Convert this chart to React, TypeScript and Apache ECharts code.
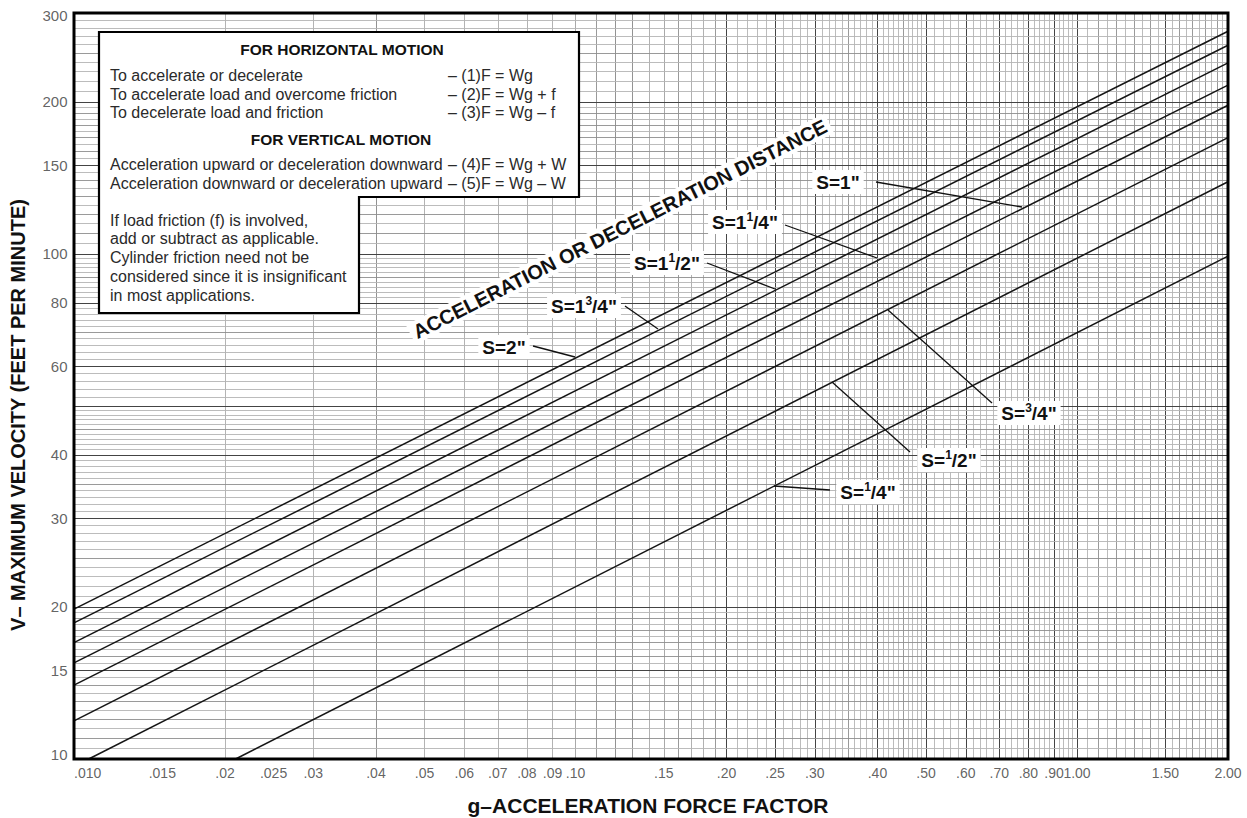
import React, { useEffect, useRef } from "react";
import * as echarts from "echarts";

const FONT = "'Liberation Sans', Arial, Helvetica, sans-serif";

// Acceleration / deceleration distance curves: [g, V(ft/min)] endpoints
const seriesNames = ['S=2"', 'S=1 3/4"', 'S=1 1/2"', 'S=1 1/4"', 'S=1"', 'S=3/4"', 'S=1/2"', 'S=1/4"'];
const s200 = [[0.01, 19.8], [2.0, 276]];
const s175 = [[0.01, 18.6], [2.0, 259]];
const s150 = [[0.01, 17.0], [2.0, 239]];
const s125 = [[0.01, 15.5], [2.0, 216]];
const s100 = [[0.01, 14.0], [2.0, 197]];
const s075 = [[0.01, 11.9], [2.0, 170]];
const s050 = [[0.0107, 10], [2.0, 139]];
const s025 = [[0.021, 10], [2.0, 99]];
const seriesData = [s200, s175, s150, s125, s100, s075, s050, s025];

// Axis ticks
const xTickValues = [0.01, 0.015, 0.02, 0.025, 0.03, 0.04, 0.05, 0.06, 0.07, 0.08, 0.09, 0.1, 0.15, 0.2, 0.25, 0.3, 0.4, 0.5, 0.6, 0.7, 0.8, 0.9, 1, 1.5, 2];
const xTickLabels = [".010", ".015", ".02", ".025", ".03", ".04", ".05", ".06", ".07", ".08", ".09", ".10", ".15", ".20", ".25", ".30", ".40", ".50", ".60", ".70", ".80", ".90", "1.00", "1.50", "2.00"];
const yTickValues = [10, 15, 20, 30, 40, 60, 80, 100, 150, 200, 300];
const yTickLabels = ["10", "15", "20", "30", "40", "60", "80", "100", "150", "200", "300"];

// Graph-paper rulings: [from, to, step]
const xFineSteps = [[0.01, 0.02, 0.0005], [0.02, 0.05, 0.001], [0.05, 0.1, 0.002], [0.1, 0.2, 0.005], [0.2, 0.5, 0.01], [0.5, 1, 0.02], [1, 2, 0.05]];
const xMidSteps = [[0.01, 0.02, 0.001], [0.02, 0.05, 0.005], [0.05, 0.1, 0.01], [0.1, 0.2, 0.01], [0.2, 0.5, 0.05], [0.5, 1, 0.1], [1, 2, 0.1]];
const xMajorLines = [0.015, 0.02, 0.025, 0.03, 0.04, 0.05, 0.06, 0.07, 0.08, 0.09, 0.1, 0.15, 0.2, 0.25, 0.3, 0.4, 0.5, 0.6, 0.7, 0.8, 0.9, 1, 1.5];
const yFineSteps = [[10, 20, 0.5], [20, 50, 1], [50, 100, 2], [100, 200, 5], [200, 300, 10]];
const yMidSteps = [[10, 20, 1], [20, 50, 5], [50, 100, 10], [100, 200, 10], [200, 300, 50]];
const yMajorLines = [15, 20, 30, 40, 50, 60, 80, 100, 150, 200];

function rulings(fine: number[][], mid: number[][], major: number[], lo: number, hi: number) {
  const m = new Map<string, { v: number; lvl: number }>();
  const put = (v: number, lvl: number) => {
    const r = Math.round(v * 1e6) / 1e6;
    if (r <= lo * 1.0001 || r >= hi * 0.9999) return;
    const k = r.toFixed(6);
    const e = m.get(k);
    if (!e || e.lvl < lvl) m.set(k, { v: r, lvl });
  };
  fine.forEach(([a, b, s]) => { for (let i = 0; a + i * s <= b + 1e-9; i++) put(a + i * s, 0); });
  mid.forEach(([a, b, s]) => { for (let i = 0; a + i * s <= b + 1e-9; i++) put(a + i * s, 1); });
  major.forEach((v) => put(v, 2));
  return Array.from(m.values());
}

const LVL = [
  { color: "#b4b4b4", width: 0.9 },
  { color: "#8e8e8e", width: 0.9 },
  { color: "#444444", width: 1 },
];

function sLabel(x: number, y: number, whole: string, sup: string, den: string) {
  const text = sup ? `{b|S=${whole}}{s|${sup}}{b|/${den}"}` : `{b|S=${whole}"}`;
  return {
    type: "text",
    z: 120,
    x,
    y,
    style: {
      text,
      align: "center",
      verticalAlign: "middle",
      textAlign: "center",
      textVerticalAlign: "middle",
      backgroundColor: "#fff",
      padding: [1, 4],
      rich: {
        b: { fontSize: 19, fontWeight: "bold", fontFamily: FONT, fill: "#111", lineHeight: 22 },
        s: { fontSize: 12, fontWeight: "bold", fontFamily: FONT, fill: "#111", lineHeight: 16, verticalAlign: "top" },
      },
    },
  };
}

function leader(x1: number, y1: number, x2: number, y2: number) {
  return { type: "line", z: 110, shape: { x1, y1, x2, y2 }, style: { stroke: "#111", lineWidth: 1.3 } };
}

function boxText(x: number, y: number, text: string, bold = false, align = "left") {
  return {
    type: "text",
    z: 130,
    x,
    y,
    style: {
      text,
      fontSize: bold ? 15.5 : 16,
      fontWeight: bold ? "bold" : "normal",
      fontFamily: FONT,
      fill: bold ? "#111" : "#2a2a2a",
      align,
      textAlign: align,
      verticalAlign: "middle",
      textVerticalAlign: "middle",
    },
  };
}

export default function App() {
  const ref = useRef<HTMLDivElement>(null);
  useEffect(() => {
    document.body.style.margin = "0";
    if (!ref.current) return;
    const chart = echarts.init(ref.current, undefined, { renderer: "svg" });

    const xr = rulings(xFineSteps, xMidSteps, xMajorLines, 0.01, 2);
    const yr = rulings(yFineSteps, yMidSteps, yMajorLines, 10, 300);
    const markData: any[] = [];
    xr.forEach((r) => markData.push({ xAxis: r.v, lineStyle: { color: LVL[r.lvl].color, width: LVL[r.lvl].width, type: "solid" } }));
    yr.forEach((r) => markData.push({ yAxis: r.v, lineStyle: { color: LVL[r.lvl].color, width: LVL[r.lvl].width, type: "solid" } }));

    const lineSeries = seriesData.map((d, i) => ({
      type: "line",
      name: seriesNames[i],
      data: d,
      symbol: "none",
      silent: true,
      z: 5,
      lineStyle: { color: "#151515", width: 1.5 },
    }));

    const graphic: any[] = [
      // plot frame
      { type: "rect", z: 90, shape: { x: 74, y: 13, width: 1154, height: 746 }, style: { fill: "none", stroke: "#000", lineWidth: 3 } },
      // inset box
      {
        type: "polygon",
        z: 125,
        shape: { points: [[99, 32], [579, 32], [579, 197], [359, 197], [359, 313], [99, 313]] },
        style: { fill: "#fff", stroke: "#000", lineWidth: 2.2 },
      },
      boxText(342, 49, "FOR HORIZONTAL MOTION", true, "center"),
      boxText(110, 75, "To accelerate or decelerate"),
      boxText(110, 94, "To accelerate load and overcome friction"),
      boxText(110, 112, "To decelerate load and friction"),
      boxText(448, 75, "– (1)F = Wg"),
      boxText(448, 94, "– (2)F = Wg + f"),
      boxText(448, 112, "– (3)F = Wg – f"),
      boxText(341, 139, "FOR VERTICAL MOTION", true, "center"),
      boxText(110, 164, "Acceleration upward or deceleration downward"),
      boxText(110, 183, "Acceleration downward or deceleration upward"),
      boxText(448, 164, "– (4)F = Wg + W"),
      boxText(448, 183, "– (5)F = Wg – W"),
      boxText(110, 220, "If load friction (f) is involved,"),
      boxText(110, 238, "add or subtract as applicable."),
      boxText(110, 257, "Cylinder friction need not be"),
      boxText(110, 276, "considered since it is insignificant"),
      boxText(110, 295, "in most applications."),
      // diagonal title
      {
        type: "text",
        z: 115,
        x: 620,
        y: 229,
        rotation: 0.468,
        style: {
          text: "ACCELERATION OR DECELERATION DISTANCE",
          fontSize: 20,
          fontWeight: "bold",
          fontFamily: FONT,
          fill: "#111",
          align: "center",
          verticalAlign: "middle",
          textAlign: "center",
          textVerticalAlign: "middle",
          backgroundColor: "#fff",
          padding: [1, 4],
        },
      },
      // leader lines
      leader(876, 182, 1022, 207),
      leader(785, 225, 877, 258),
      leader(707, 263, 775, 289),
      leader(625, 306, 658, 329),
      leader(533, 346, 575, 357),
      leader(992, 403, 888, 310),
      leader(910, 452, 832, 382),
      leader(830, 490, 774, 486),
      // curve labels
      sLabel(838, 182, "1", "", ""),
      sLabel(745, 222, "1", "1", "4"),
      sLabel(667, 263, "1", "1", "2"),
      sLabel(584, 306, "1", "3", "4"),
      sLabel(504, 347, "2", "", ""),
      sLabel(1029, 413, "", "3", "4"),
      sLabel(949, 460, "", "1", "2"),
      sLabel(868, 492, "", "1", "4"),
      // axis titles
      {
        type: "text",
        z: 130,
        x: 18,
        y: 415,
        rotation: Math.PI / 2,
        style: {
          text: "V– MAXIMUM VELOCITY (FEET PER MINUTE)",
          fontSize: 20,
          fontWeight: "bold",
          fontFamily: FONT,
          fill: "#111",
          align: "center",
          verticalAlign: "middle",
          textAlign: "center",
          textVerticalAlign: "middle",
        },
      },
      {
        type: "text",
        z: 130,
        x: 648,
        y: 805,
        style: {
          text: "g–ACCELERATION FORCE FACTOR",
          fontSize: 21,
          fontWeight: "bold",
          fontFamily: FONT,
          fill: "#111",
          align: "center",
          verticalAlign: "middle",
          textAlign: "center",
          textVerticalAlign: "middle",
        },
      },
    ];

    const option: any = {
      animation: false,
      grid: { left: 74, right: 19, top: 13, bottom: 59, show: true, backgroundColor: "#fff", borderWidth: 0 },
      xAxis: {
        type: "log",
        logBase: 10,
        min: 0.01,
        max: 2,
        axisLine: { show: false },
        axisTick: { show: false },
        axisLabel: { show: false },
        splitLine: { show: false },
      },
      yAxis: {
        type: "log",
        logBase: 10,
        min: 10,
        max: 300,
        axisLine: { show: false },
        axisTick: { show: false },
        axisLabel: { show: false },
        splitLine: { show: false },
      },
      series: [
        {
          type: "line",
          name: "paper",
          data: [[0.01, 10]],
          symbol: "none",
          silent: true,
          z: 1,
          lineStyle: { opacity: 0 },
          markLine: {
            silent: true,
            animation: false,
            symbol: ["none", "none"],
            label: { show: false },
            z: 1,
            data: markData,
          },
        },
        ...lineSeries,
        {
          type: "scatter",
          name: "xlabels",
          silent: true,
          clip: false,
          symbolSize: 1,
          itemStyle: { color: "rgba(0,0,0,0)" },
          z: 20,
          data: xTickValues.map((v, i) => ({
            value: [v, 10],
            label: i === 0 ? { align: "left" } : {},
          })),
          label: {
            show: true,
            position: "bottom",
            distance: 6,
            fontSize: 14,
            fontFamily: FONT,
            color: "#3a3a3a",
            formatter: (p: any) => xTickLabels[p.dataIndex],
          },
        },
        {
          type: "scatter",
          name: "ylabels",
          silent: true,
          clip: false,
          symbolSize: 1,
          itemStyle: { color: "rgba(0,0,0,0)" },
          z: 20,
          data: yTickValues.map((v, i) => ({
            value: [0.01, v],
            label: i === 0 ? { offset: [0, -5] } : i === yTickValues.length - 1 ? { offset: [0, 2] } : {},
          })),
          label: {
            show: true,
            position: "left",
            distance: 6,
            fontSize: 15,
            fontFamily: FONT,
            color: "#3a3a3a",
            formatter: (p: any) => yTickLabels[p.dataIndex],
          },
        },
      ],
      graphic: { elements: graphic },
    };
    chart.setOption(option);
    return () => chart.dispose();
  }, []);
  return <div ref={ref} style={{ position: "absolute", left: 0, top: 0, width: 1247, height: 818 }} />;
}
